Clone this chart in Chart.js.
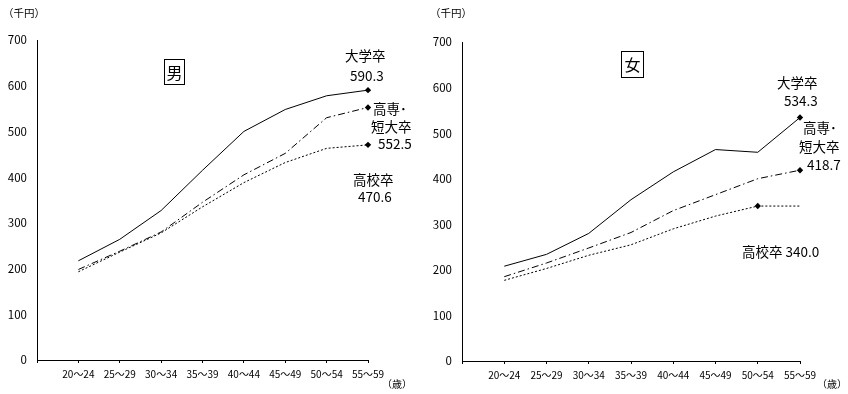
<!DOCTYPE html>
<html lang="ja">
<head>
<meta charset="utf-8">
<script src="https://cdn.jsdelivr.net/npm/chart.js@4/dist/chart.umd.min.js"></script>
<style>
    html, body { margin: 0; padding: 0; background: #fff; }
    body { width: 848px; height: 394px; position: relative; overflow: hidden;
           font-family: "Noto Sans CJK JP", "Noto Sans", sans-serif; color: #000; }
    .panel { position: absolute; top: 0; width: 424px; height: 394px; }
    .panel canvas { position: absolute; left: 0; top: 0; }
    .lbl { position: absolute; white-space: nowrap; line-height: 1; }
    .unit { font-size: 10.5px; }
    .note { font-size: 13.5px; }
    .sex { position: absolute; border: 1px solid #000; font-size: 16px; text-align: center; box-sizing: border-box; }
</style>
</head>
<body>

<div class="panel" style="left:0">
    <canvas id="maleChart" width="424" height="394"></canvas>
    <div class="lbl unit" style="left:3px; top:8px">（千円）</div>
    <div class="sex" style="left:164px; top:59px; width:21px; height:26px; line-height:24px">男</div>
    <div class="lbl note" style="left:345px; top:49px">大学卒</div>
    <div class="lbl note" style="left:350px; top:69px">590.3</div>
    <div class="lbl note" style="left:373px; top:102px">高専･</div>
    <div class="lbl note" style="left:371px; top:120px">短大卒</div>
    <div class="lbl note" style="left:378px; top:137px">552.5</div>
    <div class="lbl note" style="left:353px; top:173px">高校卒</div>
    <div class="lbl note" style="left:358px; top:190px">470.6</div>
    <div class="lbl unit" style="left:382px; top:379px; font-size:10px">（歳）</div>
</div>

<div class="panel" style="left:424px">
    <canvas id="femaleChart" width="424" height="394"></canvas>
    <div class="lbl unit" style="left:6px; top:8px">（千円）</div>
    <div class="sex" style="left:197px; top:51px; width:23px; height:27px; line-height:25px">女</div>
    <div class="lbl note" style="left:353px; top:76px">大学卒</div>
    <div class="lbl note" style="left:360px; top:94px">534.3</div>
    <div class="lbl note" style="left:379px; top:121px">高専･</div>
    <div class="lbl note" style="left:375px; top:140px">短大卒</div>
    <div class="lbl note" style="left:383px; top:158px">418.7</div>
    <div class="lbl note" style="left:318px; top:245px">高校卒 340.0</div>
    <div class="lbl unit" style="left:393px; top:379px; font-size:10px">（歳）</div>
</div>

<script>
// 年齢階級
const ageLabels = ['20～24', '25～29', '30～34', '35～39', '40～44', '45～49', '50～54', '55～59'];

// 男（千円）
const maleUniv   = [217, 264, 327, 415, 500, 548, 578, 590.3];
const maleJunior = [198, 238, 280, 345, 405, 452, 530, 552.5];
const maleHigh   = [193, 236, 278, 335, 388, 432, 463, 470.6];

// 女（千円）
const femaleUniv   = [208, 234, 280, 354, 415, 464, 458, 534.3];
const femaleJunior = [185, 215, 248, 282, 330, 365, 400, 418.7];
const femaleHigh   = [177, 203, 232, 255, 290, 318, 340, 340];

// y軸目盛
const yTicks = [0, 100, 200, 300, 400, 500, 600, 700];

// 各系列でマーカーを付ける位置
const maleMarks   = { univ: 7, junior: 7, high: 7 };
const femaleMarks = { univ: 7, junior: 7, high: 6 };

const FONT = '"Noto Sans CJK JP", "Noto Sans", sans-serif';

// 左端に空の区分を1つ置いて、最初の点を軸から1目盛離す
function withGap(arr) { return [null, ...arr]; }

function radii(n, idx) {
    const r = new Array(n + 1).fill(0);
    r[idx + 1] = 3.2;
    return r;
}

function makeDataset(values, dash, markIdx) {
    return {
        data: withGap(values),
        borderColor: '#000',
        backgroundColor: '#000',
        borderWidth: 1,
        borderDash: dash,
        tension: 0,
        pointStyle: 'rectRot',
        pointRadius: radii(values.length, markIdx),
        pointBorderWidth: 0,
        spanGaps: false
    };
}

function renderChart(canvasId, univ, junior, high, marks, pad) {
    const ctx = document.getElementById(canvasId).getContext('2d');
    return new Chart(ctx, {
        type: 'line',
        data: {
            labels: ['', ...ageLabels],
            datasets: [
                makeDataset(univ, [], marks.univ),
                makeDataset(junior, [7, 3, 1.5, 3], marks.junior),
                makeDataset(high, [2, 2], marks.high)
            ]
        },
        options: {
            responsive: false,
            animation: false,
            layout: { padding: { top: pad.top, right: pad.right, bottom: 0, left: 0 } },
            plugins: { legend: { display: false }, tooltip: { enabled: false } },
            scales: {
                x: {
                    type: 'category',
                    offset: false,
                    afterFit: (s) => { s.height = pad.bottomAxis; },
                    grid: { display: true, drawOnChartArea: false, drawTicks: true, tickLength: 3, color: '#000' },
                    border: { display: true, color: '#000', width: 1 },
                    ticks: { color: '#000', font: { family: FONT, size: 10 }, padding: 5,
                             autoSkip: false, maxRotation: 0 }
                },
                y: {
                    min: 0,
                    max: 700,
                    afterFit: (s) => { s.width = pad.left; },
                    afterBuildTicks: (s) => { s.ticks = yTicks.map(v => ({ value: v })); },
                    grid: { display: true, drawOnChartArea: false, drawTicks: false },
                    border: { display: true, color: '#000', width: 1 },
                    ticks: { color: '#000', font: { family: FONT, size: 11.5 }, padding: 10 }
                }
            }
        }
    });
}

renderChart('maleChart', maleUniv, maleJunior, maleHigh, maleMarks,
    { top: 40, right: 56, left: 37, bottomAxis: 34 });
renderChart('femaleChart', femaleUniv, femaleJunior, femaleHigh, femaleMarks,
    { top: 42, right: 48, left: 38, bottomAxis: 33 });
</script>
</body>
</html>
